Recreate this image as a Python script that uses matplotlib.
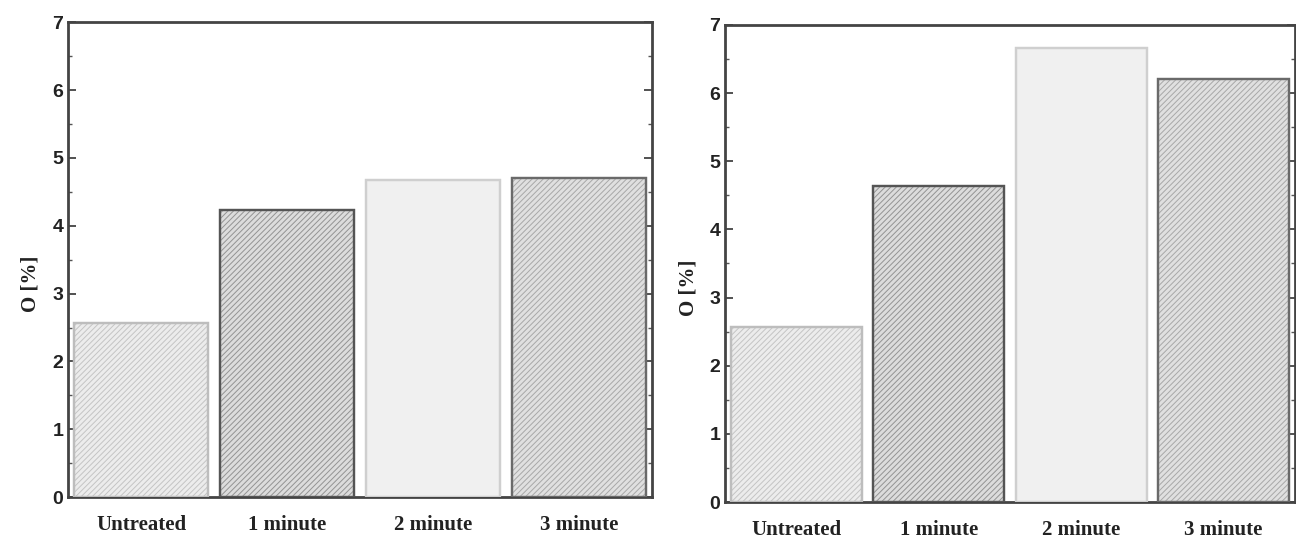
import matplotlib.pyplot as plt
import numpy as np
from matplotlib.ticker import MultipleLocator

categories = ["Untreated", "1 minute", "2 minute", "3 minute"]
left_values = [2.56, 4.23, 4.68, 4.70]
right_values = [2.57, 4.63, 6.66, 6.20]

# fill / edge / hatch per bar
fills = ["#ececec", "#dcdcdc", "#f0f0f0", "#e0e0e0"]
edges = ["#bdbdbd", "#555555", "#cfcfcf", "#6a6a6a"]
hatches = ["//////", "//////", "", "//////"]
hatch_colors = ["#c4c4c4", "#939393", "#e6e6e6", "#a8a8a8"]

plt.rcParams["font.family"] = ["Liberation Serif", "DejaVu Serif"]
plt.rcParams["hatch.linewidth"] = 0.7

fig = plt.figure(figsize=(12.96, 5.41), dpi=100)
ax1 = fig.add_axes([0.0525, 0.081, 0.4505, 0.878])
ax2 = fig.add_axes([0.5595, 0.072, 0.4395, 0.882])


def draw_panel(ax, values, label_y):
    x = np.arange(len(categories))
    for i, v in enumerate(values):
        ax.bar(x[i], v, width=0.92, color=fills[i], edgecolor=edges[i],
               linewidth=1.6, zorder=2)
        if hatches[i]:
            ax.bar(x[i], v, width=0.92, color="none", edgecolor=hatch_colors[i],
                   hatch=hatches[i], linewidth=0, zorder=3)
        ax.bar(x[i], v, width=0.92, color="none", edgecolor=edges[i],
               linewidth=1.6, zorder=4)

    ax.set_xlim(-0.5, 3.5)
    ax.set_ylim(0, 7)
    ax.set_xticks(x)
    ax.set_xticklabels(categories, fontsize=15, fontweight="bold", color="#222222")
    ax.tick_params(axis="x", length=0, pad=13)
    ax.yaxis.set_major_locator(MultipleLocator(1))
    ax.yaxis.set_minor_locator(MultipleLocator(0.5))
    ax.tick_params(axis="y", which="major", direction="in", length=6, width=1.2,
                   right=True, labelsize=14, colors="#333333")
    ax.tick_params(axis="y", which="minor", direction="in", length=3, width=1,
                   right=True, colors="#555555")
    for lab in ax.get_yticklabels():
        lab.set_fontfamily(["Liberation Sans", "DejaVu Sans"])
        lab.set_fontweight("bold")
        lab.set_color("#222222")
    for s in ax.spines.values():
        s.set_linewidth(2)
        s.set_color("#444444")
    ax.set_ylabel("O [%]", fontsize=15, fontweight="bold", color="#222222")
    ax.yaxis.set_label_coords(-0.047, label_y)


draw_panel(ax1, left_values, 0.45)
draw_panel(ax2, right_values, 0.45)

plt.savefig("out.png", dpi=100)
plt.close()
